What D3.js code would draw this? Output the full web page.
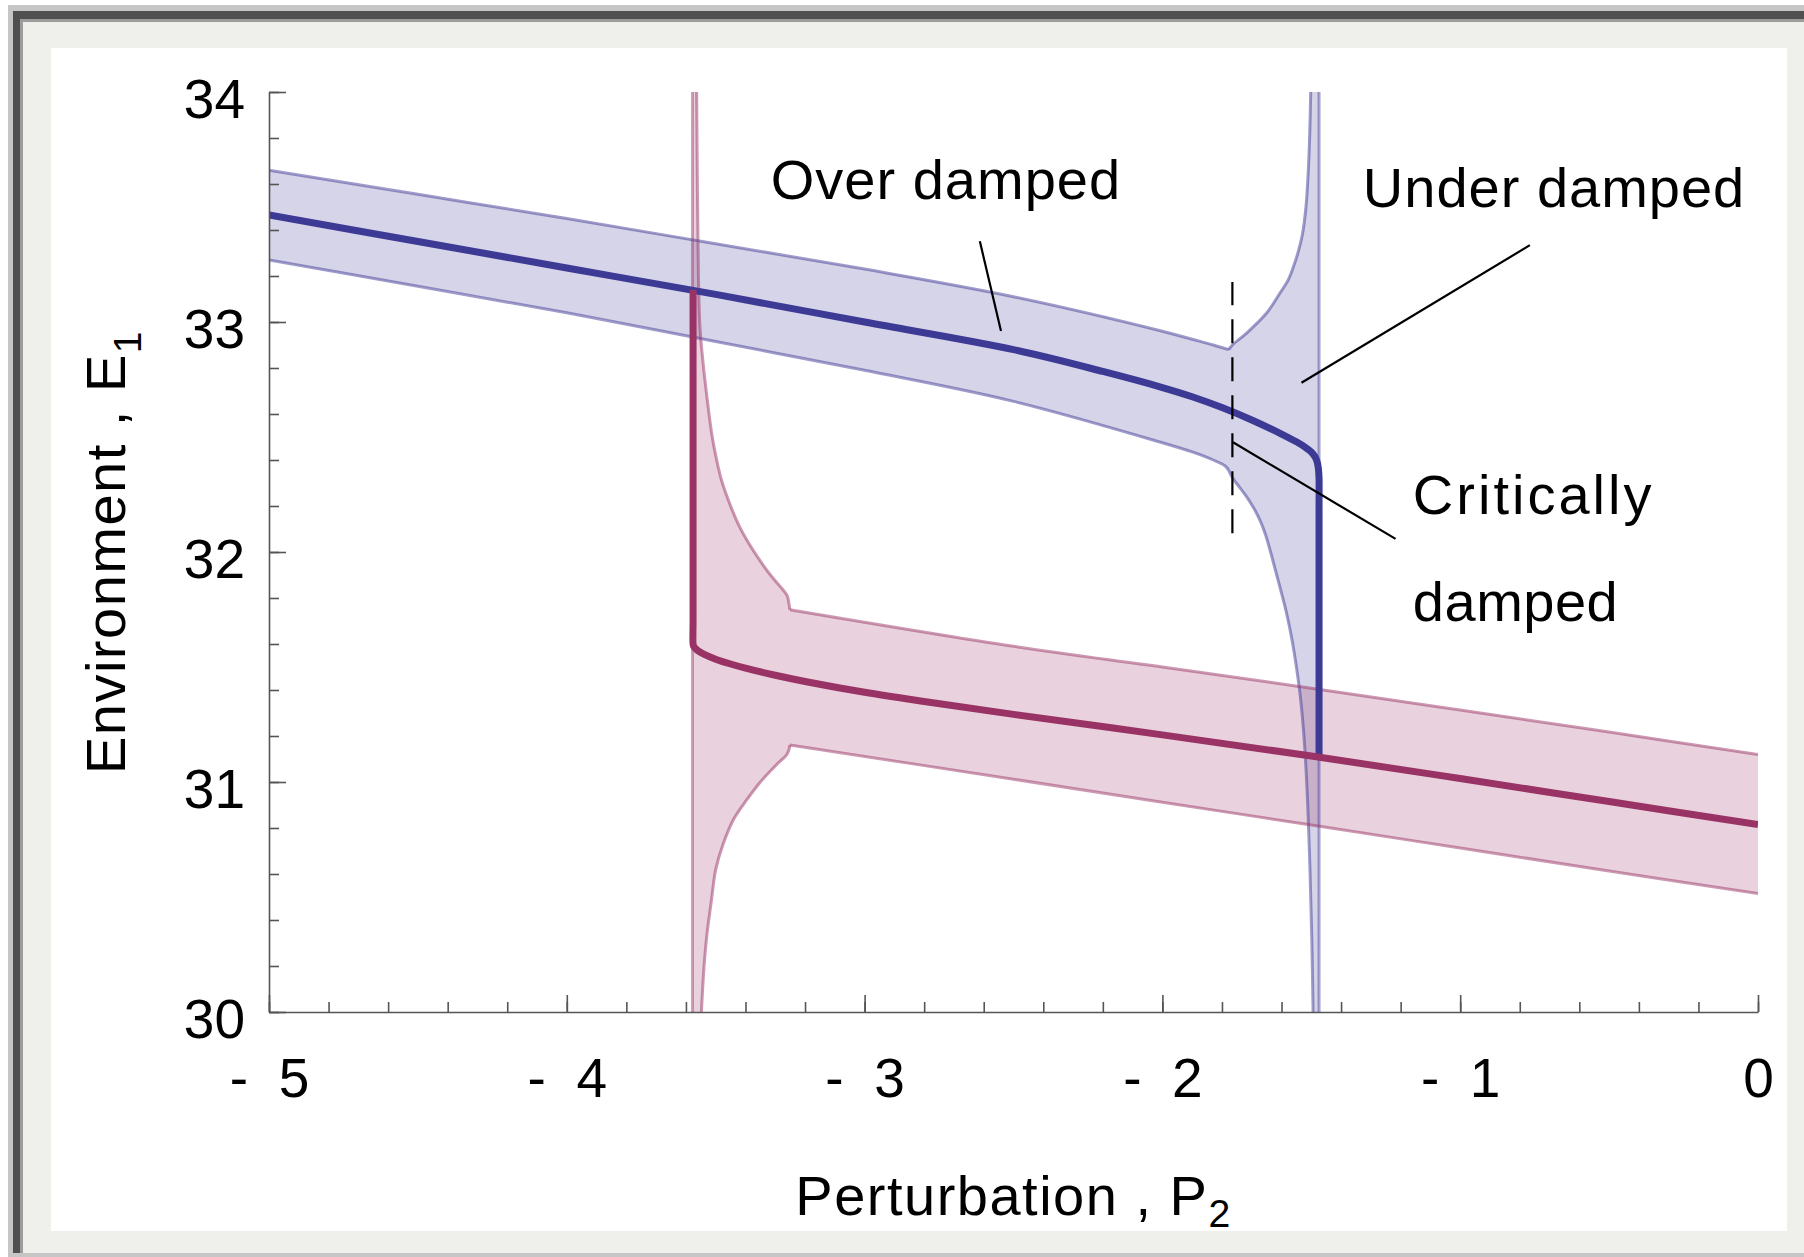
<!DOCTYPE html>
<html>
<head>
<meta charset="utf-8">
<script src="https://cdn.jsdelivr.net/npm/d3@7"></script>
<style>
  body { margin: 0; background: #fff; }
  svg { display: block; }
  text { font-family: "Liberation Sans", Arial, sans-serif; fill: #000; }
</style>
</head>
<body>
<div id="chart"></div>
<script>
// axis ticks
const xTicks = [-5, -4, -3, -2, -1, 0];
const xTickLabels = ['-\u00a0\u00a05', '-\u00a0\u00a04', '-\u00a0\u00a03', '-\u00a0\u00a02', '-\u00a0\u00a01', '0'];
const yTicks = [30, 31, 32, 33, 34];
const yTickLabels = ['30', '31', '32', '33', '34'];
const xMinorTicks = d3.range(-5, 0.001, 0.2);
const yMinorTicks = d3.range(30, 34.001, 0.2);

// upper (blue) branch, [P2, E1]
const blueCentre = [[-5.0, 33.465], [-4.5, 33.35], [-4.0, 33.235], [-3.5, 33.12], [-3.0, 33.0],
  [-2.5, 32.88], [-2.2, 32.785], [-2.0, 32.715], [-1.9, 32.675], [-1.8, 32.628], [-1.7, 32.574],
  [-1.6, 32.513], [-1.55, 32.479], [-1.52, 32.455], [-1.5, 32.435], [-1.488, 32.415], [-1.48, 32.39],
  [-1.476, 32.36], [-1.474, 32.32], [-1.474, 32.2], [-1.474, 31.115]];
const blueBandHi = [[-5.0, 33.66], [-4.5, 33.555], [-4.0, 33.45], [-3.5, 33.34], [-3.0, 33.23],
  [-2.5, 33.11], [-2.0, 32.96], [-1.9, 32.925], [-1.829, 32.9], [-1.777, 32.88]];
const blueBandLo = [[-5.0, 33.27], [-4.5, 33.155], [-4.0, 33.04], [-3.5, 32.915], [-3.0, 32.79],
  [-2.5, 32.655], [-2.0, 32.475], [-1.9, 32.435], [-1.829, 32.4], [-1.79, 32.375], [-1.777, 32.355]];
const blueFlareHi = [[-1.777, 32.88], [-1.765, 32.9], [-1.717, 32.952], [-1.65, 33.039], [-1.605, 33.126],
  [-1.577, 33.184], [-1.56, 33.24], [-1.545, 33.3], [-1.53, 33.38], [-1.518, 33.5],
  [-1.51, 33.66], [-1.505, 33.83], [-1.502, 34.0]];
const blueFlareLo = [[-1.777, 32.355], [-1.768, 32.33], [-1.755, 32.305], [-1.74, 32.28], [-1.717, 32.24],
  [-1.695, 32.195], [-1.673, 32.14], [-1.655, 32.08], [-1.639, 32.01], [-1.61, 31.87], [-1.585, 31.745],
  [-1.565, 31.62], [-1.55, 31.5], [-1.535, 31.35], [-1.522, 31.15], [-1.512, 30.9], [-1.504, 30.6],
  [-1.498, 30.3], [-1.494, 30.0]];
const blueFoldP = -1.474;

// lower (pink) branch, [P2, E1]
const pinkCentre = [[-3.576, 33.14], [-3.576, 33.0], [-3.576, 31.7], [-3.576, 31.6], [-3.574, 31.59],
  [-3.57, 31.583], [-3.56, 31.571], [-3.54, 31.556], [-3.5, 31.534], [-3.45, 31.513], [-3.4, 31.495],
  [-3.3, 31.464], [-3.2, 31.437], [-3.0, 31.39], [-2.8, 31.35], [-2.5, 31.294], [-2.0, 31.205],
  [-1.5, 31.113], [-1.0, 31.015], [-0.5, 30.915], [0.0, 30.815]];
const pinkBandHi = [[-3.251, 31.749], [-2.5, 31.59], [-2.0, 31.5], [-1.5, 31.408], [-1.0, 31.313],
  [-0.5, 31.217], [0.0, 31.12]];
const pinkBandLo = [[-3.251, 31.161], [-2.5, 31.012], [-2.0, 30.912], [-1.5, 30.813], [-1.0, 30.713],
  [-0.5, 30.613], [0.0, 30.515]];
const pinkFlareHi = [[-3.251, 31.749], [-3.254, 31.775], [-3.26, 31.81], [-3.28, 31.845], [-3.31, 31.89],
  [-3.35, 31.96], [-3.39, 32.04], [-3.42, 32.11], [-3.45, 32.2], [-3.48, 32.31], [-3.5, 32.42],
  [-3.514, 32.52], [-3.53, 32.68], [-3.543, 32.83], [-3.553, 32.98], [-3.558, 33.2], [-3.561, 33.53],
  [-3.564, 34.0]];
const pinkFlareLo = [[-3.251, 31.161], [-3.254, 31.14], [-3.262, 31.118], [-3.296, 31.075], [-3.35, 31.0],
  [-3.396, 30.922], [-3.439, 30.84], [-3.475, 30.73], [-3.5, 30.619], [-3.514, 30.489], [-3.53, 30.33],
  [-3.539, 30.2], [-3.548, 30.0]];
const pinkFoldP = -3.578;

// critical damping marker and annotations
const criticalP = -1.765;
const criticalRange = [32.082, 33.174];
const labels = [
  { text: 'Over damped', p: -3.315, e: 33.535, spacing: 1 },
  { text: 'Under damped', p: -1.327, e: 33.5, spacing: 1 },
  { text: 'Critically', p: -1.159, e: 32.166, spacing: 3 },
  { text: 'damped', p: -1.159, e: 31.70, spacing: 0.5 }
];
const pointers = [
  [[-2.613, 33.351], [-2.542, 32.961]],
  [[-0.766, 33.334], [-1.533, 32.736]],
  [[-1.763, 32.477], [-1.217, 32.057]]
];

const W = 1804, H = 1257;
const margin = { top: 92, right: 46, bottom: 245, left: 269 };
const contentWidth = W - margin.left - margin.right;
const contentHeight = H - margin.top - margin.bottom;

const blue = '#3d3a96', pink = '#993366';
const blueEdge = 'rgba(64,58,150,0.5)', pinkEdge = 'rgba(153,51,102,0.5)';

const svg = d3.select('#chart').append('svg')
  .attr('width', W)
  .attr('height', H);

// frame
svg.append('rect').attr('x', 8).attr('y', 5).attr('width', W - 8).attr('height', H - 5).attr('fill', '#c6c6c6');
svg.append('rect').attr('x', 13).attr('y', 11).attr('width', W - 13).attr('height', 1242).attr('fill', '#4f4f4f');
svg.append('rect').attr('x', 20).attr('y', 19).attr('width', W - 20).attr('height', 1234).attr('fill', '#9c9c9c');
svg.append('rect').attr('x', 23).attr('y', 22).attr('width', W - 23).attr('height', 1231).attr('fill', '#efefec');
svg.append('rect').attr('x', 51).attr('y', 48).attr('width', 1736).attr('height', 1183).attr('fill', '#fff');

const x = d3.scaleLinear().domain([-5, 0]).range([margin.left, margin.left + contentWidth]);
const y = d3.scaleLinear().domain([30, 34]).range([margin.top + contentHeight, margin.top]);

svg.append('clipPath').attr('id', 'plot')
  .append('rect')
  .attr('x', margin.left).attr('y', margin.top)
  .attr('width', contentWidth).attr('height', contentHeight);

const line = d3.line().x(d => x(d[0])).y(d => y(d[1])).curve(d3.curveCatmullRom.alpha(0.5));
const join = parts => parts.map((p, i) => i === 0 ? line(p) : 'L' + line(p).slice(1)).join('') + 'Z';

const plot = svg.append('g').attr('clip-path', 'url(#plot)');

// bands
plot.append('path')
  .attr('d', join([blueBandHi, blueFlareHi, [[blueFoldP, 34], [blueFoldP, 30]],
    blueFlareLo.slice().reverse(), blueBandLo.slice().reverse()]))
  .attr('fill', 'rgba(64,58,150,0.22)');
plot.append('path')
  .attr('d', join([[[pinkFoldP, 34], [pinkFoldP, 30]], pinkFlareLo.slice().reverse(), pinkBandLo,
    pinkBandHi.slice().reverse(), pinkFlareHi]))
  .attr('fill', 'rgba(153,51,102,0.22)');

const edges = [
  { d: blueBandHi, c: blueEdge }, { d: blueFlareHi, c: blueEdge },
  { d: blueBandLo, c: blueEdge }, { d: blueFlareLo, c: blueEdge },
  { d: [[blueFoldP, 34], [blueFoldP, 30]], c: 'rgba(64,58,150,0.45)' },
  { d: pinkBandHi, c: pinkEdge }, { d: pinkFlareHi, c: pinkEdge },
  { d: pinkBandLo, c: pinkEdge }, { d: pinkFlareLo, c: pinkEdge },
  { d: [[pinkFoldP, 34], [pinkFoldP, 30]], c: 'rgba(153,51,102,0.45)' }
];
plot.selectAll('.edge')
  .data(edges)
  .enter().append('path')
  .attr('class', 'edge')
  .attr('d', d => line(d.d))
  .attr('fill', 'none')
  .attr('stroke', d => d.c)
  .attr('stroke-width', 3)
  .attr('stroke-linejoin', 'round');

// stable branches
plot.append('path')
  .attr('d', line(blueCentre))
  .attr('fill', 'none')
  .attr('stroke', blue)
  .attr('stroke-width', 7);
plot.append('path')
  .attr('d', line(pinkCentre))
  .attr('fill', 'none')
  .attr('stroke', pink)
  .attr('stroke-width', 7);

// critical damping dashed line
svg.append('line')
  .attr('x1', x(criticalP)).attr('x2', x(criticalP))
  .attr('y1', y(criticalRange[0])).attr('y2', y(criticalRange[1]))
  .attr('stroke', '#000')
  .attr('stroke-width', 2.2)
  .attr('stroke-dasharray', '24,14');

// axes
const styleAxis = g => {
  g.selectAll('path, line').attr('stroke', '#555').attr('stroke-width', 1.6);
  g.selectAll('text').attr('font-size', 55).attr('fill', '#000')
    .attr('font-family', '"Liberation Sans", Arial, sans-serif');
};

svg.append('g')
  .attr('transform', 'translate(' + margin.left + ',0)')
  .call(d3.axisLeft(y).tickValues(yMinorTicks).tickFormat('').tickSizeInner(-10).tickSizeOuter(0))
  .call(g => g.select('.domain').remove())
  .call(styleAxis);
svg.append('g')
  .attr('transform', 'translate(0,' + (margin.top + contentHeight) + ')')
  .call(d3.axisBottom(x).tickValues(xMinorTicks).tickFormat('').tickSizeInner(-10).tickSizeOuter(0))
  .call(g => g.select('.domain').remove())
  .call(styleAxis);

svg.append('g')
  .attr('transform', 'translate(' + margin.left + ',0)')
  .call(d3.axisLeft(y).tickValues(yTicks).tickFormat((d, i) => yTickLabels[i])
    .tickSizeInner(-17).tickSizeOuter(0).tickPadding(24))
  .call(styleAxis)
  .selectAll('text').attr('dy', '0.47em');

svg.append('g')
  .attr('transform', 'translate(0,' + (margin.top + contentHeight) + ')')
  .call(d3.axisBottom(x).tickValues(xTicks).tickFormat((d, i) => xTickLabels[i])
    .tickSizeInner(-17).tickSizeOuter(0).tickPadding(46))
  .call(styleAxis);

// axis titles
const xTitle = svg.append('text')
  .attr('x', margin.left + contentWidth / 2)
  .attr('y', 1215)
  .attr('text-anchor', 'middle')
  .attr('font-size', 56)
  .attr('letter-spacing', 1.5)
  .text('Perturbation , P');
xTitle.append('tspan').attr('font-size', '0.7em').attr('dy', '0.3em').text('2');

const yTitle = svg.append('text')
  .attr('transform', 'translate(125,' + (margin.top + contentHeight / 2) + ') rotate(-90)')
  .attr('text-anchor', 'middle')
  .attr('font-size', 56)
  .attr('letter-spacing', 1.5)
  .text('Environment , E');
yTitle.append('tspan').attr('font-size', '0.7em').attr('dy', '0.4em').text('1');

// annotations
svg.selectAll('.pointer')
  .data(pointers)
  .enter().append('line')
  .attr('class', 'pointer')
  .attr('x1', d => x(d[0][0])).attr('y1', d => y(d[0][1]))
  .attr('x2', d => x(d[1][0])).attr('y2', d => y(d[1][1]))
  .attr('stroke', '#000')
  .attr('stroke-width', 2.2);

svg.selectAll('.label')
  .data(labels)
  .enter().append('text')
  .attr('class', 'label')
  .attr('x', d => x(d.p))
  .attr('y', d => y(d.e))
  .attr('font-size', 56)
  .attr('letter-spacing', d => d.spacing)
  .text(d => d.text);
</script>
</body>
</html>
